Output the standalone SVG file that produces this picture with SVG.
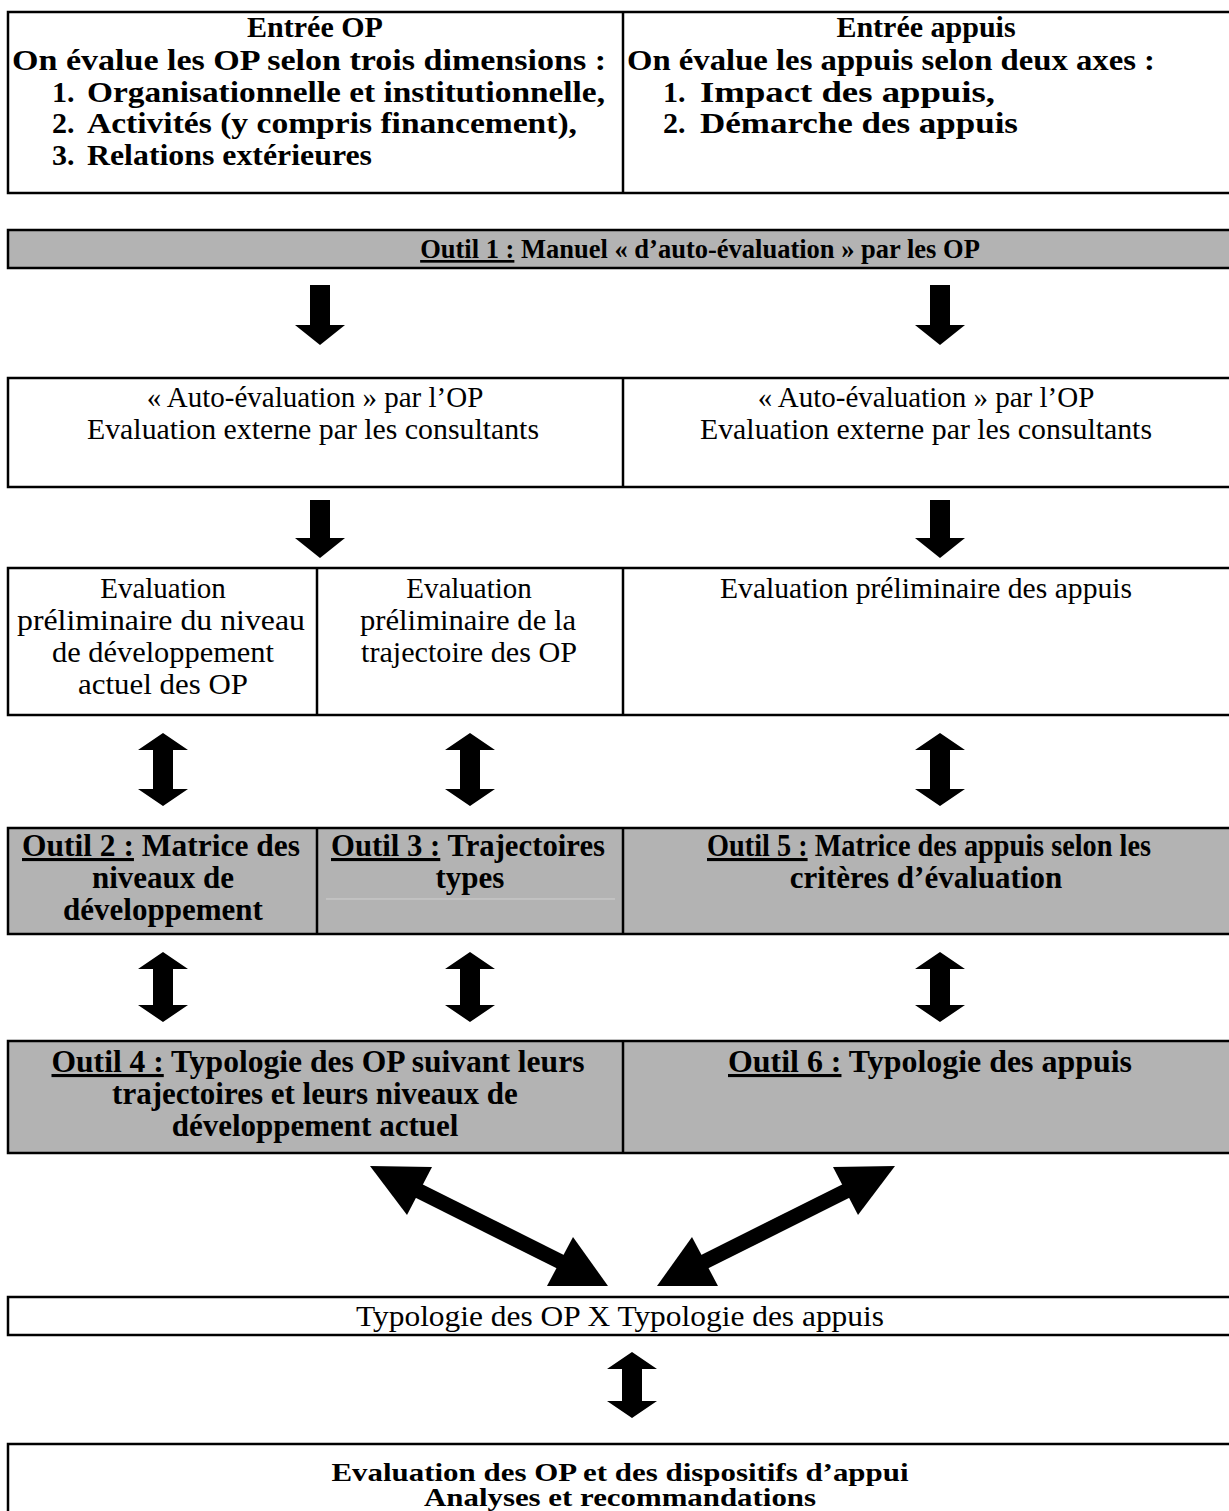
<svg xmlns="http://www.w3.org/2000/svg" width="1229" height="1511" viewBox="0 0 1229 1511">
  <style>
    .box { fill: #ffffff; stroke: #000000; stroke-width: 2.5; }
    .grey { fill: #b3b3b3; stroke: #000000; stroke-width: 2.5; }
    .div { stroke: #000000; stroke-width: 2.5; }
    .t { font-family: "Liberation Serif", "Times New Roman", serif; fill: #000000; }
    .b { font-weight: bold; font-size: 30px; }
    .bo { font-weight: bold; font-size: 31px; }
    .r { font-size: 29px; }
    .c { text-anchor: middle; }
    .u { text-decoration: underline; }
    .arrow { fill: #000000; stroke: none; }
    .shaft { stroke: #000000; stroke-width: 15; fill: none; }
  </style>
  <rect width="1229" height="1511" fill="#ffffff"/>

  <!-- entry boxes -->
  <g id="entree">
    <rect class="box" x="8" y="12" width="1230" height="181"/>
    <line class="div" x1="623" y1="12" x2="623" y2="193"/>
    <g id="entree-op" class="t b">
      <text class="c" x="315" y="37">Entrée OP</text>
      <text x="12" y="70" textLength="594" lengthAdjust="spacingAndGlyphs">On évalue les OP selon trois dimensions :</text>
      <text x="52" y="102">1.</text><text x="87" y="102" textLength="518" lengthAdjust="spacingAndGlyphs">Organisationnelle et institutionnelle,</text>
      <text x="52" y="133">2.</text><text x="87" y="133" textLength="490" lengthAdjust="spacingAndGlyphs">Activités (y compris financement),</text>
      <text x="52" y="165">3.</text><text x="87" y="165" textLength="285" lengthAdjust="spacingAndGlyphs">Relations extérieures</text>
    </g>
    <g id="entree-appuis" class="t b">
      <text class="c" x="926" y="37">Entrée appuis</text>
      <text x="627" y="70" textLength="528" lengthAdjust="spacingAndGlyphs">On évalue les appuis selon deux axes :</text>
      <text x="663" y="102">1.</text><text x="700" y="102" textLength="295" lengthAdjust="spacingAndGlyphs">Impact des appuis,</text>
      <text x="663" y="133">2.</text><text x="700" y="133" textLength="318" lengthAdjust="spacingAndGlyphs">Démarche des appuis</text>
    </g>
  </g>

  <!-- tool 1 -->
  <g id="outil1">
    <rect class="grey" x="8" y="230" width="1230" height="38"/>
    <text class="t c" x="700" y="258" font-weight="bold" font-size="26.5"><tspan class="u">Outil 1 :</tspan> Manuel « d’auto-évaluation » par les OP</text>
  </g>

  <!-- self and external assessment -->
  <g id="auto-evaluation">
    <rect class="box" x="8" y="378" width="1230" height="109"/>
    <line class="div" x1="623" y1="378" x2="623" y2="487"/>
    <g class="t r c">
      <text x="315" y="407">« Auto-évaluation » par l’OP</text>
      <text x="313" y="439" textLength="452" lengthAdjust="spacingAndGlyphs">Evaluation externe par les consultants</text>
      <text x="926" y="407">« Auto-évaluation » par l’OP</text>
      <text x="926" y="439" textLength="452" lengthAdjust="spacingAndGlyphs">Evaluation externe par les consultants</text>
    </g>
  </g>

  <!-- preliminary assessments -->
  <g id="evaluations-preliminaires">
    <rect class="box" x="8" y="568" width="1230" height="147"/>
    <line class="div" x1="317" y1="568" x2="317" y2="715"/>
    <line class="div" x1="623" y1="568" x2="623" y2="715"/>
    <g class="t r c">
      <text x="163" y="598">Evaluation</text>
      <text x="161" y="630" textLength="288" lengthAdjust="spacingAndGlyphs">préliminaire du niveau</text>
      <text x="163" y="662" textLength="222" lengthAdjust="spacingAndGlyphs">de développement</text>
      <text x="163" y="694" textLength="170" lengthAdjust="spacingAndGlyphs">actuel des OP</text>
      <text x="469" y="598">Evaluation</text>
      <text x="468" y="630" textLength="216" lengthAdjust="spacingAndGlyphs">préliminaire de la</text>
      <text x="469" y="662" textLength="216" lengthAdjust="spacingAndGlyphs">trajectoire des OP</text>
      <text x="926" y="598" textLength="412" lengthAdjust="spacingAndGlyphs">Evaluation préliminaire des appuis</text>
    </g>
  </g>

  <!-- tools 2, 3 and 5 -->
  <g id="outils-2-3-5">
    <rect class="grey" x="8" y="828" width="1230" height="106"/>
    <line class="div" x1="317" y1="828" x2="317" y2="934"/>
    <line class="div" x1="623" y1="828" x2="623" y2="934"/>
    <line x1="326" y1="899" x2="615" y2="899" stroke="#d0d0d0" stroke-width="1"/>
    <g class="t bo c">
      <text x="161" y="856" textLength="278" lengthAdjust="spacingAndGlyphs"><tspan class="u">Outil 2 :</tspan> Matrice des</text>
      <text x="163" y="888">niveaux de</text>
      <text x="163" y="920">développement</text>
      <text x="468" y="856" textLength="274" lengthAdjust="spacingAndGlyphs"><tspan class="u">Outil 3 :</tspan> Trajectoires</text>
      <text x="470" y="888">types</text>
      <text x="929" y="856" textLength="444" lengthAdjust="spacingAndGlyphs"><tspan class="u">Outil 5 :</tspan> Matrice des appuis selon les</text>
      <text x="926" y="888">critères d’évaluation</text>
    </g>
  </g>

  <!-- tools 4 and 6 -->
  <g id="outils-4-6">
    <rect class="grey" x="8" y="1041" width="1230" height="112"/>
    <line class="div" x1="623" y1="1041" x2="623" y2="1153"/>
    <g class="t bo c">
      <text x="318" y="1072" textLength="533" lengthAdjust="spacingAndGlyphs"><tspan class="u">Outil 4 :</tspan> Typologie des OP suivant leurs</text>
      <text x="315" y="1104">trajectoires et leurs niveaux de</text>
      <text x="315" y="1136">développement actuel</text>
      <text x="930" y="1072" textLength="404" lengthAdjust="spacingAndGlyphs"><tspan class="u">Outil 6 :</tspan> Typologie des appuis</text>
    </g>
  </g>

  <!-- crossed typologies -->
  <g id="croisement">
    <rect class="box" x="8" y="1297" width="1230" height="38"/>
    <text class="t r c" x="620" y="1326" textLength="528" lengthAdjust="spacingAndGlyphs">Typologie des OP X Typologie des appuis</text>
  </g>

  <!-- final assessment -->
  <g id="evaluation-finale">
    <rect class="box" x="8" y="1444" width="1230" height="80"/>
    <g class="t c" font-weight="bold" font-size="25">
      <text x="620" y="1481" textLength="577" lengthAdjust="spacingAndGlyphs">Evaluation des OP et des dispositifs d’appui</text>
      <text x="620" y="1506" textLength="392" lengthAdjust="spacingAndGlyphs">Analyses et recommandations</text>
    </g>
  </g>

  <!-- connectors -->
  <g id="connecteurs">
    <!-- down arrows -->
    <polygon class="arrow" points="310,285 330,285 330,325 345,325 320,345 295,325 310,325"/>
    <polygon class="arrow" points="930,285 950,285 950,325 965,325 940,345 915,325 930,325"/>
    <polygon class="arrow" points="310,500 330,500 330,538 345,538 320,558 295,538 310,538"/>
    <polygon class="arrow" points="930,500 950,500 950,538 965,538 940,558 915,538 930,538"/>
    <!-- two-way arrows, rows 3 to 4 -->
    <polygon class="arrow" points="163,733 188,750 173,750 173,789 188,789 163,806 138,789 153,789 153,750 138,750"/>
    <polygon class="arrow" points="470,733 495,750 480,750 480,789 495,789 470,806 445,789 460,789 460,750 445,750"/>
    <polygon class="arrow" points="940,733 965,750 950,750 950,789 965,789 940,806 915,789 930,789 930,750 915,750"/>
    <!-- two-way arrows, rows 4 to 5 -->
    <polygon class="arrow" points="163,952 188,969 173,969 173,1005 188,1005 163,1022 138,1005 153,1005 153,969 138,969"/>
    <polygon class="arrow" points="470,952 495,969 480,969 480,1005 495,1005 470,1022 445,1005 460,1005 460,969 445,969"/>
    <polygon class="arrow" points="940,952 965,969 950,969 950,1005 965,1005 940,1022 915,1005 930,1005 930,969 915,969"/>
    <!-- diagonal two-way arrows -->
    <line class="shaft" x1="415" y1="1189" x2="565" y2="1264"/>
    <polygon class="arrow" points="370,1166 432,1167 407,1215"/>
    <polygon class="arrow" points="608,1286 547,1286 573,1237"/>
    <line class="shaft" x1="850" y1="1189" x2="700" y2="1264"/>
    <polygon class="arrow" points="895,1166 833,1167 858,1215"/>
    <polygon class="arrow" points="657,1286 718,1286 692,1237"/>
    <!-- two-way arrow to final assessment -->
    <polygon class="arrow" points="632,1352 657,1369 642,1369 642,1401 657,1401 632,1418 607,1401 622,1401 622,1369 607,1369"/>
  </g>
</svg>
